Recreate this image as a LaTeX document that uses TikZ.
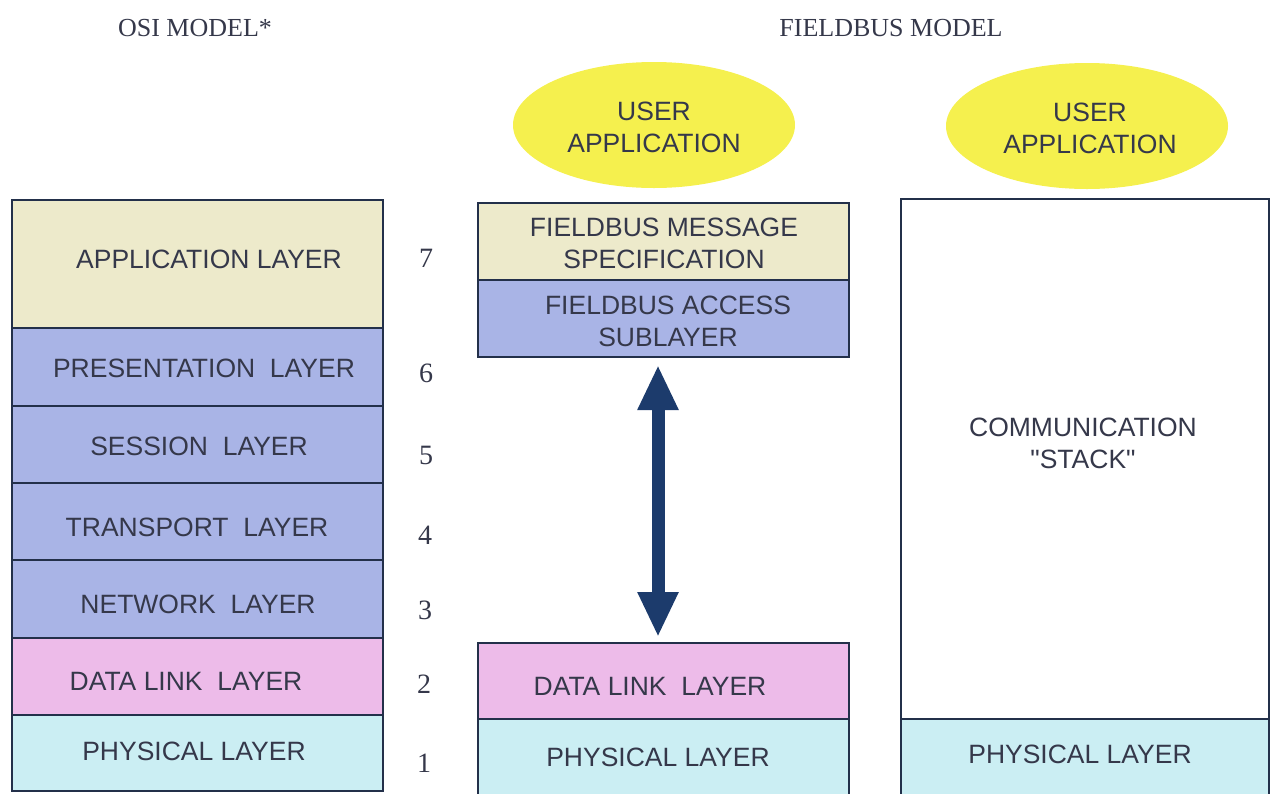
\documentclass[tikz,border=0pt]{standalone}
\usepackage{fontspec}
\setmainfont{Liberation Sans}
\newfontfamily\serifttl{Liberation Serif}
\newfontfamily\qfont{Liberation Sans}
\usetikzlibrary{arrows.meta,shapes.geometric}
\definecolor{edgec}{HTML}{23304A}
\definecolor{txtc}{HTML}{35384A}
\definecolor{appc}{HTML}{EDEACB}
\definecolor{midc}{HTML}{A9B4E6}
\definecolor{dllc}{HTML}{EDBBE9}
\definecolor{phyc}{HTML}{CBEEF3}
\definecolor{ellc}{HTML}{F5F04E}
\definecolor{arrc}{HTML}{1C3B6C}
\tikzset{
  x=1pt,y=-1pt,
  boxc/.style={draw=edgec, line width=2pt, inner sep=0pt, outer sep=0pt},
  lbl/.style={text=txtc, font=\fontsize{26.5}{32}\selectfont, align=center, inner sep=0pt},
  num/.style={text=txtc, font=\serifttl\fontsize{28}{30}\selectfont, inner sep=0pt},
  ttl/.style={text=txtc, font=\serifttl\fontsize{26}{28}\selectfont, inner sep=0pt},
  uapp/.style={ellipse, fill=ellc, draw=none, minimum width=282pt, minimum height=126pt, inner sep=0pt},
  dblarrow/.style={draw=arrc, line width=13pt, {Triangle[width=38pt,length=45pt]}-{Triangle[width=38pt,length=45pt]}}
}
\begin{document}
\begin{tikzpicture}
\useasboundingbox (0,0) rectangle (1274,793);
\clip (0,0) rectangle (1274,793);
% titles
\node[ttl] (tosi) at (195,28) {OSI MODEL*};
\node[ttl] (tfb) at (891,28) {FIELDBUS MODEL};
% OSI column
\draw[boxc, fill=appc] (12,200) rectangle (383,328);
\draw[boxc, fill=midc] (12,328) rectangle (383,406);
\draw[boxc, fill=midc] (12,406) rectangle (383,483);
\draw[boxc, fill=midc] (12,483) rectangle (383,560);
\draw[boxc, fill=midc] (12,560) rectangle (383,638);
\draw[boxc, fill=dllc] (12,638) rectangle (383,715);
\draw[boxc, fill=phyc] (12,715) rectangle (383,791);
\node[lbl] (o7) at (209,259) {APPLICATION LAYER};
\node[lbl] (o6) at (204,368) {PRESENTATION\ \ LAYER};
\node[lbl] (o5) at (199,446) {SESSION\ \ LAYER};
\node[lbl] (o4) at (197,527) {TRANSPORT\ \ LAYER};
\node[lbl] (o3) at (198,604) {NETWORK\ \ LAYER};
\node[lbl] (o2) at (186,681) {DATA LINK\ \ LAYER};
\node[lbl] (o1) at (194,751) {PHYSICAL LAYER};
% numbers
\node[num] (n7) at (426,258) {7};
\node[num] (n6) at (426,373) {6};
\node[num] (n5) at (426,455) {5};
\node[num] (n4) at (425,535) {4};
\node[num] (n3) at (425,610) {3};
\node[num] (n2) at (424,684) {2};
\node[num] (n1) at (424,763) {1};
% middle column
\node[uapp] (ua1) at (654,125) {};
\node[lbl] (ua1t) at (654,127) {USER\\APPLICATION};
\draw[boxc, fill=appc] (478,203) rectangle (849,280);
\draw[boxc, fill=midc] (478,280) rectangle (849,357);
\node[lbl] (fms) at (664,243) {FIELDBUS MESSAGE\\SPECIFICATION};
\node[lbl] (fas) at (668,321) {FIELDBUS ACCESS\\SUBLAYER};
\draw[boxc, fill=dllc] (478,643) rectangle (849,719);
\draw[boxc, fill=phyc] (478,719) rectangle (849,810);
\node[lbl] (mdll) at (650,686) {DATA LINK\ \ LAYER};
\node[lbl] (mphy) at (658,757) {PHYSICAL LAYER};
\coordinate (atop) at (658,365);
\coordinate (abot) at (658,637);
\draw[dblarrow] (atop) -- (abot);
% right column
\node[uapp] (ua2) at (1087,126) {};
\node[lbl] (ua2t) at (1090,128) {USER\\APPLICATION};
\draw[boxc, fill=white] (901,199) rectangle (1269,719);
\draw[boxc, fill=phyc] (901,719) rectangle (1269,810);
\node[lbl] (cstack) at (1083,443) {COMMUNICATION\\{\qfont"}STACK{\qfont"}};
\node[lbl] (rphy) at (1080,754) {PHYSICAL LAYER};
\end{tikzpicture}
\end{document}
